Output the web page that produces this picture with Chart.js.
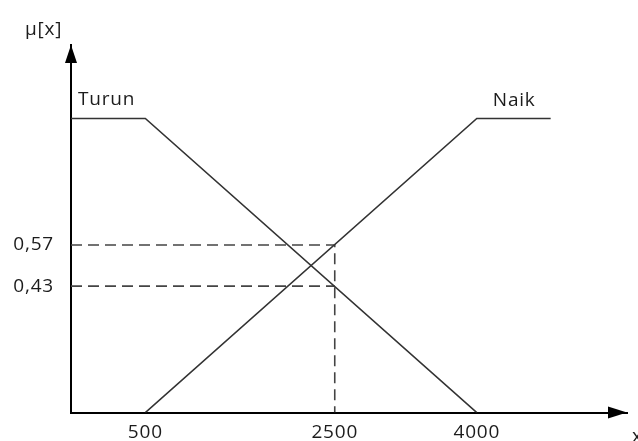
<!DOCTYPE html>
<html>
<head>
<meta charset="utf-8">
<script src="https://cdn.jsdelivr.net/npm/chart.js@4"></script>
<style>
  html, body { margin: 0; padding: 0; background: #fff; }
  #wrap { width: 638px; height: 441px; position: relative; }
</style>
</head>
<body>
<div id="wrap"><canvas id="fuzzy"></canvas></div>
<script>
// axis range (origin sits a bit left of 0)
const xMin = -285;
const xMax = 5586;
const yMax = 1.25;

const xTicks = [500, 2500, 4000];
const yTicks = [0.43, 0.57];

const turunX = [xMin, 500, 4000];
const turunY = [1, 1, 0];
const naikX = [500, 4000, 4780];
const naikY = [0, 1, 1];

const cutX = 2500;
const cutHigh = 0.57;
const cutLow = 0.43;

const FONT = "'Open Sans', 'DejaVu Sans', sans-serif";
const INK = '#1c1c1c';

function pts(xs, ys) {
    return xs.map(function(x, i) { return { x: x, y: ys[i] }; });
}

// arrowheads + free labels
const extras = {
    id: 'extras',
    beforeDraw: function(chart) {
        chart.ctx.letterSpacing = '0.8px';
    },
    afterDraw: function(chart) {
        const c = chart.ctx;
        const a = chart.chartArea;
        const xs = chart.scales.x, ys = chart.scales.y;
        c.save();
        c.fillStyle = '#000';
        // y arrow
        c.beginPath();
        c.moveTo(a.left, a.top);
        c.lineTo(a.left - 6, a.top + 18);
        c.lineTo(a.left + 6, a.top + 18);
        c.closePath();
        c.fill();
        // x arrow
        c.beginPath();
        c.moveTo(a.right, a.bottom);
        c.lineTo(a.right - 19, a.bottom - 6);
        c.lineTo(a.right - 19, a.bottom + 6);
        c.closePath();
        c.fill();

        c.fillStyle = INK;
        c.font = '19px ' + FONT;
        c.textBaseline = 'middle';
        c.textAlign = 'left';
        c.fillText('Turun', xs.getPixelForValue(xMin) + 7, ys.getPixelForValue(1) - 19);
        c.fillText('Naik', xs.getPixelForValue(4000) + 16, ys.getPixelForValue(1) - 18);
        c.fillText('\u00b5[x]', 25, 30);
        c.fillText('x', 632, 437);
        c.restore();
    }
};

new Chart(document.getElementById('fuzzy'), {
    type: 'line',
    data: {
        datasets: [
            { label: 'Turun', data: pts(turunX, turunY), borderColor: '#333', borderWidth: 1.6 },
            { label: 'Naik', data: pts(naikX, naikY), borderColor: '#333', borderWidth: 1.6 },
            { label: 'cut 0.57', data: [{x: xMin, y: cutHigh}, {x: cutX, y: cutHigh}, {x: cutX, y: 0}],
              borderColor: '#444', borderWidth: 1.6, borderDash: [11, 6] },
            { label: 'cut 0.43', data: [{x: xMin, y: cutLow}, {x: cutX, y: cutLow}],
              borderColor: '#444', borderWidth: 1.6, borderDash: [11, 6] }
        ]
    },
    options: {
        responsive: true,
        maintainAspectRatio: false,
        animation: false,
        elements: { point: { radius: 0 }, line: { tension: 0 } },
        layout: { padding: { top: 45, right: 11, left: 0, bottom: 0 } },
        plugins: { legend: { display: false }, tooltip: { enabled: false } },
        scales: {
            x: {
                type: 'linear', min: xMin, max: xMax,
                afterBuildTicks: function(s) { s.ticks = xTicks.map(function(v) { return { value: v }; }); },
                afterFit: function(s) { s.height = 26; },
                grid: { display: false, drawTicks: false },
                border: { display: true, color: '#000', width: 2 },
                ticks: {
                    padding: 9, color: INK, font: { family: FONT, size: 19 }, maxRotation: 0,
                    callback: function(v) { return String(v); }
                }
            },
            y: {
                type: 'linear', min: 0, max: yMax,
                afterBuildTicks: function(s) { s.ticks = yTicks.map(function(v) { return { value: v }; }); },
                afterFit: function(s) { s.width = 71; },
                grid: { display: false, drawTicks: false },
                border: { display: true, color: '#000', width: 2 },
                ticks: {
                    padding: 17, color: INK, font: { family: FONT, size: 19 },
                    callback: function(v) { return v.toFixed(2).replace('.', ','); }
                }
            }
        }
    },
    plugins: [extras]
});
</script>
</body>
</html>
